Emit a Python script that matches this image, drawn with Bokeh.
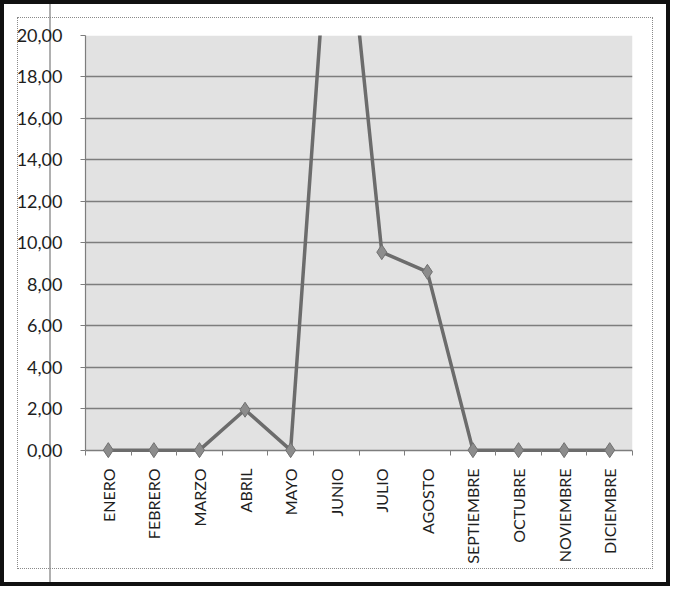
import math
from bokeh.plotting import figure
from bokeh.models import FixedTicker, Range1d, BoxAnnotation
from bokeh.embed import file_html
from bokeh.resources import INLINE

months = ["ENERO", "FEBRERO", "MARZO", "ABRIL", "MAYO", "JUNIO", "JULIO",
          "AGOSTO", "SEPTIEMBRE", "OCTUBRE", "NOVIEMBRE", "DICIEMBRE"]
values = [0.0, 0.0, 0.0, 1.95, 0.0, 31.0, 9.55, 8.6, 0.0, 0.0, 0.0, 0.0]
y_ticks = [0, 2, 4, 6, 8, 10, 12, 14, 16, 18, 20]
y_min, y_max = 0, 20

xs = list(range(len(months)))

FONT = "Lato"
TXT = "#1e1e1e"
GRID = "#7d7d7d"

p = figure(width=670, height=586, output_backend="svg", toolbar_location=None,
           x_range=Range1d(-0.5, len(months) - 0.5),
           y_range=Range1d(y_min - 0.5, y_max),
           min_border_left=85, min_border_right=38,
           min_border_top=35, min_border_bottom=126)

p.background_fill_color = "white"
p.border_fill_color = None
p.outline_line_color = None
p.styles = {
    "outline": "1px dotted #8a8a8a",
    "outline-offset": "-18px",
    "box-shadow": "inset 0 0 0 4px #111111",
    "background-color": "white",
    "background-image": "linear-gradient(to right, transparent 49px, #b0b0b0 49px, #b0b0b0 51px, transparent 51px)",
}

# plot-area fill (only between 0 and 20)
p.add_layout(BoxAnnotation(bottom=y_min, top=y_max, fill_color="#e2e2e2", fill_alpha=1,
                           line_color=None, level="image"))

# grid
p.xgrid.grid_line_color = None
p.ygrid.grid_line_color = GRID
p.ygrid.grid_line_width = 1.5
p.ygrid.ticker = FixedTicker(ticks=y_ticks)

# y axis
p.yaxis.ticker = FixedTicker(ticks=y_ticks)
p.yaxis.major_label_overrides = {t: f"{t:.2f}".replace(".", ",") for t in y_ticks}
p.yaxis.bounds = (y_min, y_max)
p.yaxis.axis_line_color = GRID
p.yaxis.axis_line_width = 1.2
p.yaxis.major_tick_line_color = GRID
p.yaxis.major_tick_out = 5
p.yaxis.major_tick_in = 0
p.yaxis.minor_tick_line_color = None
p.yaxis.major_label_standoff = 18
p.yaxis.major_label_text_font = FONT
p.yaxis.major_label_text_font_size = "18px"
p.yaxis.major_label_text_color = TXT

# x axis (axis line hidden: the 0 gridline plays its role)
p.xaxis.ticker = FixedTicker(ticks=xs, minor_ticks=[i - 0.5 for i in range(len(months) + 1)])
p.xaxis.major_label_overrides = {i: m for i, m in enumerate(months)}
p.xaxis.major_label_orientation = math.pi / 2
p.xaxis.axis_line_color = None
p.xaxis.major_tick_line_color = None
p.xaxis.minor_tick_line_color = GRID
p.xaxis.minor_tick_in = 10
p.xaxis.minor_tick_out = -5
p.xaxis.major_label_standoff = 2
p.xaxis.major_label_text_font = FONT
p.xaxis.major_label_text_font_size = "16px"
p.xaxis.major_label_text_color = TXT

p.line(xs, values, line_color="#6c6c6c", line_width=3.5)
p.scatter(xs, values, marker="diamond", size=15, fill_color="#8c8c8c",
          line_color="#707070", line_width=1)

open("out.html", "w").write(file_html(p, INLINE))
